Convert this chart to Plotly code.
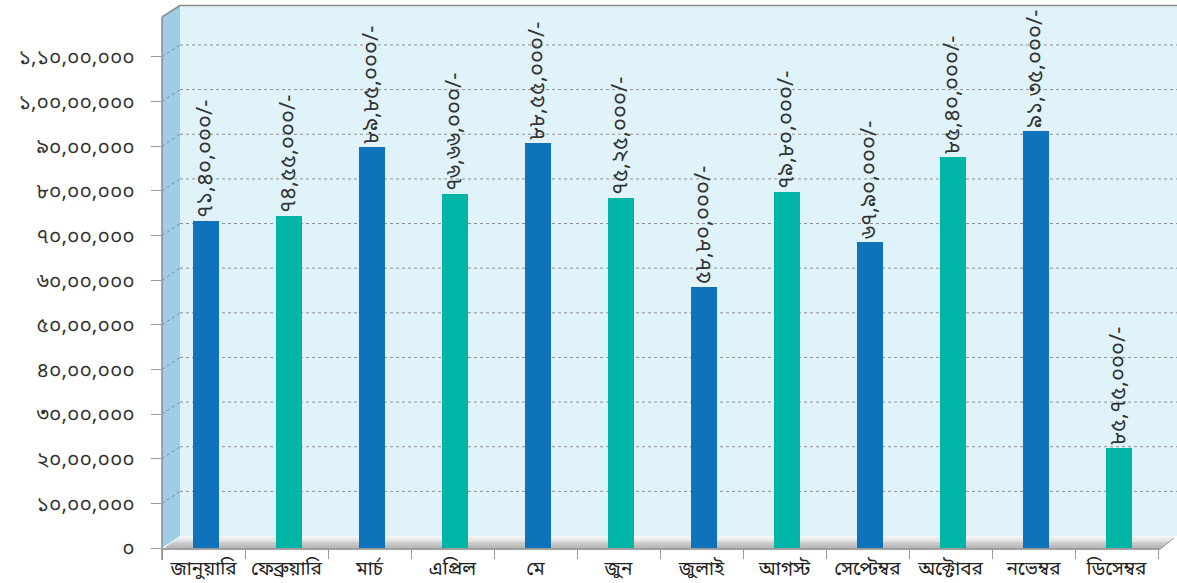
import plotly.graph_objects as go

# ---------------- data ----------------
months = ["জানুয়ারি", "ফেব্রুয়ারি", "মার্চ", "এপ্রিল", "মে", "জুন",
          "জুলাই", "আগস্ট", "সেপ্টেম্বর", "অক্টোবর", "নভেম্বর", "ডিসেম্বর"]
values = [7330000, 7440000, 8980000, 7930000, 9070000, 7840000,
          5850000, 7970000, 6850000, 8760000, 9340000, 2240000]
value_labels = ["৭১,৪০,০০০/-", "৭৪,৫৫,০০০/-", "৮৯,৮৫,০০০/-", "৭৬,৬৬,০০০/-",
                "৮৮,৫৫,০০০/-", "৭৫,২৫,০০০/-", "৫৮,৮০,০০০/-", "৭৯,৮০,০০০/-",
                "৬৭,৯০,০০০/-", "৮৫,৪০,০০০/-", "৯১,৩৫,০০০/-", "৮৫,৭৫,০০০/-"]
tick_vals = [0, 1000000, 2000000, 3000000, 4000000, 5000000, 6000000,
             7000000, 8000000, 9000000, 10000000, 11000000]
tick_text = ["০", "১০,০০,০০০", "২০,০০,০০০", "৩০,০০,০০০", "৪০,০০,০০০",
             "৫০,০০,০০০", "৬০,০০,০০০", "৭০,০০,০০০", "৮০,০০,০০০",
             "৯০,০০,০০০", "১,০০,০০,০০০", "১,১০,০০,০০০"]
bar_colors = ["#0f73bb", "#00b5a5"]

# ---------------- geometry (pixels) ----------------
W, H = 1177, 583
L, R_, T, B = 162, 19, 5, 35
PW = W - L - R_
PH = H - T - B
Y_MAX = 12164000
DX, DY = 18, 12  # 3D depth offset in px

FONT = "Noto Sans Bengali, Noto Sans, Lohit Bengali, sans-serif"


def px_x(p):
    return (p - L) / PW


def px_y(p):
    return (H - B - p) / PH


def val_y(v):
    return v / Y_MAX


def dyp():
    return DY / PH


def poly(points):
    return "M " + " L ".join(f"{x},{y}" for x, y in points) + " Z"


shapes = []
# back wall
shapes.append(dict(type="rect", xref="paper", yref="paper",
                   x0=px_x(L + DX), x1=px_x(W), y0=val_y(0) + dyp(), y1=px_y(5),
                   fillcolor="#e0f3fa", line=dict(width=0), layer="below"))
# side wall
shapes.append(dict(type="path", xref="paper", yref="paper",
                   path=poly([(px_x(L), val_y(0)), (px_x(L), px_y(17)),
                              (px_x(L + DX), px_y(5)), (px_x(L + DX), val_y(0) + dyp())]),
                   fillcolor="#9fcde5", line=dict(width=0), layer="below"))
# floor as gradient bands
floor_cols = ["#f4f4f4", "#e6e6e6", "#d6d6d6", "#c6c6c6", "#b4b4b4", "#a3a3a3"]
n = len(floor_cols)
y_back = val_y(0) + dyp()
y_front = px_y(550)
for i, c in enumerate(floor_cols):
    f0 = i / n
    f1 = (i + 1) / n
    ya = y_back + (y_front - y_back) * f0
    yb = y_back + (y_front - y_back) * f1
    xa_l = px_x(L + DX - DX * f0)
    xb_l = px_x(L + DX - DX * f1)
    xa_r = px_x(W - DX * f0)
    xb_r = px_x(W - DX * f1)
    shapes.append(dict(type="path", xref="paper", yref="paper",
                       path=poly([(xa_l, ya), (xa_r, ya), (xb_r, yb), (xb_l, yb)]),
                       fillcolor=c, line=dict(width=0), layer="below"))
# gridlines
for v in tick_vals[1:]:
    shapes.append(dict(type="line", xref="paper", yref="paper",
                       x0=px_x(L + DX), x1=px_x(W), y0=val_y(v) + dyp(), y1=val_y(v) + dyp(),
                       line=dict(color="#909090", width=1, dash="dot"), layer="below"))
    shapes.append(dict(type="line", xref="paper", yref="paper",
                       x0=px_x(L), x1=px_x(L + DX), y0=val_y(v), y1=val_y(v) + dyp(),
                       line=dict(color="#6f8fa0", width=1, dash="dot"), layer="below"))
# outlines
shapes.append(dict(type="line", xref="paper", yref="paper",
                   x0=px_x(L + DX), x1=px_x(W), y0=px_y(5.5), y1=px_y(5.5),
                   line=dict(color="#8c8c8c", width=1.5), layer="below"))
shapes.append(dict(type="line", xref="paper", yref="paper",
                   x0=px_x(L), x1=px_x(L + DX), y0=px_y(17), y1=px_y(5.5),
                   line=dict(color="#8c8c8c", width=1.5), layer="below"))
shapes.append(dict(type="line", xref="paper", yref="paper",
                   x0=px_x(L), x1=px_x(L), y0=px_y(17), y1=px_y(560),
                   line=dict(color="#8c8c8c", width=1.5), layer="above"))
shapes.append(dict(type="line", xref="paper", yref="paper",
                   x0=px_x(W - DX), x1=px_x(W - 3), y0=px_y(550), y1=px_y(538),
                   line=dict(color="#9a9a9a", width=1), layer="below"))

fig = go.Figure()
fig.add_trace(go.Bar(
    x=months, y=values,
    marker=dict(color=[bar_colors[i % 2] for i in range(len(months))], line=dict(width=0)),
    width=0.325, offset=-0.1325,
    text=value_labels, textposition="outside", textangle=-90,
    textfont=dict(size=22, color="#333333", family=FONT),
    cliponaxis=False, constraintext="none",
    hoverinfo="skip",
))

fig.update_layout(
    width=W, height=H,
    margin=dict(l=L, r=R_, t=T, b=B, pad=0, autoexpand=False),
    paper_bgcolor="white", plot_bgcolor="rgba(0,0,0,0)",
    showlegend=False, shapes=shapes, bargap=0,
    font=dict(family=FONT, color="#333333"),
    xaxis=dict(type="category", showgrid=False, zeroline=False, automargin=False,
               showline=True, linecolor="#9a9a9a", linewidth=1, tickangle=0,
               ticks="outside", tickson="boundaries", ticklen=10, tickcolor="#9a9a9a",
               ticklabelstandoff=3,
               tickfont=dict(size=19, color="#222222", family=FONT),
               range=[-0.5, 11.5]),
    yaxis=dict(range=[0, Y_MAX], showgrid=False, zeroline=False, showline=False,
               automargin=False,
               tickvals=tick_vals, ticktext=tick_text,
               ticks="outside", ticklen=10, tickcolor="#9a9a9a",
               ticklabelstandoff=12,
               tickfont=dict(size=21, color="#333333", family=FONT)),
)

fig.write_html("out.html", config={"displayModeBar": False},
               post_script="document.body.style.margin='0';document.body.style.overflow='hidden';")
